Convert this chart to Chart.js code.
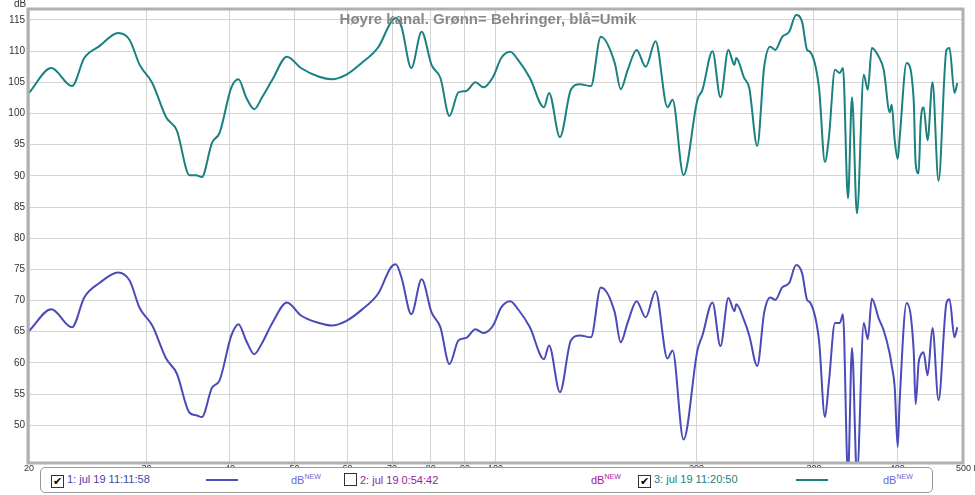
<!DOCTYPE html>
<html><head><meta charset="utf-8">
<script src="https://cdn.jsdelivr.net/npm/chart.js@4"></script>
<style>
body{margin:0;background:#fff;font-family:"Liberation Sans",Arial,sans-serif;}
#wrap{position:relative;width:975px;height:495px;}
#legend{position:absolute;left:40px;top:467px;width:891px;height:24px;border:1px solid #999;border-radius:5px;background:#fff;font-size:11px;}
#legend span{position:absolute;top:5px;}
.cb{display:inline-block;width:11px;height:11px;border:1px solid #333;vertical-align:-2px;margin-right:3px;font-size:11px;line-height:11px;text-align:center;color:#000;}
sup{font-size:7px;}
</style></head><body>
<div id="wrap"><canvas id="c" width="975" height="495"></canvas>
<div id="legend">
<span style="left:10px;color:#4444aa"><i class="cb" style="font-style:normal">✔</i>1: jul 19 11:11:58</span>
<span style="left:165px;top:11px;width:32px;height:2px;background:#4a4ab8"></span>
<span style="left:250px;color:#6a6ad0">dB<sup>NEW</sup></span>
<span style="left:303px;color:#a020a0"><i class="cb"></i>2: jul 19 0:54:42</span>
<span style="left:550px;color:#a020a0">dB<sup>NEW</sup></span>
<span style="left:597px;color:#1a7f7f"><i class="cb" style="font-style:normal">✔</i>3: jul 19 11:20:50</span>
<span style="left:755px;top:11px;width:32px;height:2px;background:#1a8080"></span>
<span style="left:842px;color:#6a6ad0">dB<sup>NEW</sup></span>
</div></div>
<script>
const freqs=[20,21.6,23.2,24.2,25.5,27.2,28.3,29.3,30.6,32.1,33.3,34.8,35.6,36.3,37.6,38.6,40.2,41.2,42.3,43.5,44.7,46.3,48.7,51.1,54.4,56.9,59.7,63.0,66.8,69.6,70.9,72.3,74.8,77.5,80.2,82.7,85.3,88.0,90.4,93.3,95.9,99.2,102,105.2,108.1,112.6,118.2,120.3,124.9,129.7,133.8,139.0,143.8,150.9,154.0,157.8,162.7,167.9,173.7,181.0,184.2,191.3,200.7,204.2,211.4,217.3,223.3,228.0,229.5,235.8,240.0,246.7,252.7,258.0,262.5,268.9,275.4,282.1,288.0,293.0,296.0,305.3,311.6,315.9,322.6,328.1,331.6,337.4,342.1,348.0,356.3,361.3,366.3,375.2,381.7,389.6,392.3,396.4,400.5,403.3,413.0,423.2,426.1,430.5,433.5,437.9,444.0,451.6,461.1,473.9,478.9,487.2,492.0];
const behringer=[103.3,107.3,104.4,108.9,110.8,112.9,111.8,107.8,104.9,99.4,97.3,90.1,90.1,89.8,95.3,96.9,104.2,105.5,102.6,100.7,102.6,105.4,109.1,107.3,105.9,105.5,106.2,108.1,110.7,114.5,115.3,113.9,107.3,113.1,107.8,105.7,99.6,103.4,103.6,105.0,104.2,105.9,108.9,109.9,108.6,105.7,101.0,103.3,96.2,103.8,104.7,104.4,112.3,108.1,103.9,107.0,110.2,107.5,111.6,101.0,102.2,90.1,102.2,103.8,110.0,102.6,110.2,107.8,108.9,105.7,104.1,94.8,107.5,110.7,110.2,112.3,113.1,115.8,114.7,110.2,109.9,104.1,92.2,96.2,107.0,106.5,107.3,86.4,102.6,84.0,106.2,103.8,110.5,109.1,107.0,100.2,101.4,95.7,92.7,96.2,108.1,102.2,92.0,90.4,98.5,101.0,95.7,105.0,89.2,110.2,110.5,103.3,104.9];
const umik=[65.1,68.6,65.7,70.5,72.8,74.5,73.2,68.8,66.0,60.7,58.3,52.0,51.6,51.3,56.0,57.2,64.4,66.2,63.6,61.4,63.2,66.4,69.7,67.6,66.4,66.0,66.7,68.5,71.2,75.2,75.8,73.7,67.8,73.4,68.1,65.7,59.8,63.6,64.0,65.4,64.8,66.0,68.9,69.9,68.6,65.7,60.6,62.8,55.3,63.6,64.4,64.1,72.1,68.1,63.3,66.5,69.9,67.3,71.5,60.7,62.0,47.7,62.0,64.4,69.7,62.7,70.4,68.3,69.4,66.8,64.4,59.5,68.1,70.5,70.1,72.1,72.8,75.7,74.4,70.1,69.7,63.6,51.3,56.9,66.4,66.4,67.8,42,62.4,42,66.4,63.8,70.3,67.1,65.2,61.5,59.6,56.1,46.5,54.0,69.6,62.0,53.4,60.0,61.2,61.7,58.0,65.6,54.0,69.6,70.2,64.1,65.7];
const xTicks=[20,30,40,50,60,70,80,90,100,200,300,400,500];
const yTicks=[50,55,60,65,70,75,80,85,90,95,100,105,110,115];
const title="Høyre kanal. Grønn= Behringer, blå=Umik";

const pts=a=>a.map((v,i)=>({x:freqs[i],y:v}));
const deco={id:'deco',afterDraw(ch){const c=ch.ctx,a=ch.chartArea,xs=ch.scales.x;c.save();
c.strokeStyle='#b0b0b0';c.lineWidth=3;c.strokeRect(a.left-1,a.top-1,a.right-a.left+2,a.bottom-a.top+2);
c.fillStyle='#888';c.font='bold 15px "Liberation Sans",Arial';c.textAlign='center';c.textBaseline='middle';c.fillText(title,488,20);
c.fillStyle='#333';c.font='10px "Liberation Sans",Arial';c.textAlign='left';c.fillText('dB',14,4);
c.font='9px "Liberation Sans",Arial';c.textAlign='center';
xTicks.forEach(v=>{const px=xs.getPixelForValue(v);if(v===500){c.textAlign='left';c.fillText('500 Hz',px-6,469);}else c.fillText(String(v),px,469);});
c.restore();}};
new Chart(document.getElementById('c'),{type:'line',
data:{datasets:[
{data:pts(behringer),borderColor:'#1a8080',borderWidth:2,pointRadius:0,cubicInterpolationMode:'monotone'},
{data:pts(umik),borderColor:'#4a4ab8',borderWidth:2,pointRadius:0,cubicInterpolationMode:'monotone'}]},
options:{responsive:false,animation:false,layout:{padding:{top:10,right:13,left:0,bottom:0}},
plugins:{legend:{display:false},tooltip:{enabled:false}},
scales:{
x:{type:'logarithmic',min:20,max:500,afterBuildTicks(s){s.ticks=xTicks.map(v=>({value:v}));},
 afterFit(s){s.height=33;},grid:{color:'#d4d4d4',drawTicks:false},border:{display:false},
 ticks:{display:false}},
y:{min:44.1,max:116.6,afterBuildTicks(s){s.ticks=yTicks.map(v=>({value:v}));},
 afterFit(s){s.width=29;},grid:{color:'#d4d4d4',drawTicks:false},border:{display:false},
 ticks:{padding:4,color:'#333',font:{size:10,family:'"Liberation Sans",Arial'}}}}},
plugins:[deco]});
</script></body></html>
